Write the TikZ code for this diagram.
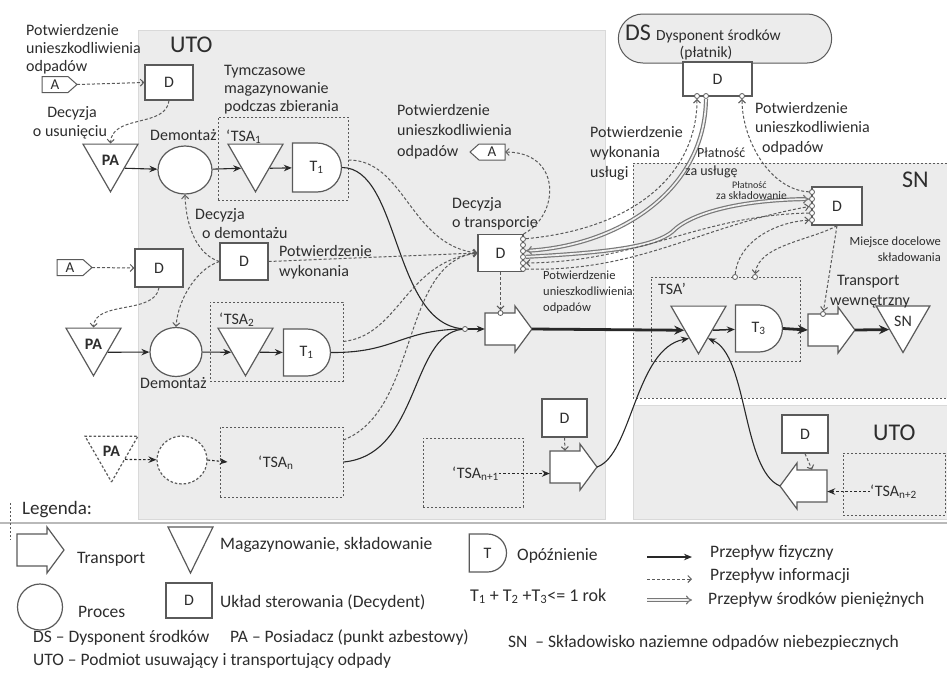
\documentclass[tikz,border=0pt]{standalone}
\usepackage{fontspec}
\setmainfont{Carlito}
\usetikzlibrary{shapes.geometric,shapes.misc,arrows.meta}

\definecolor{panel}{RGB}{236,236,236}
\definecolor{ink}{RGB}{90,90,90}
\definecolor{inkd}{RGB}{40,40,40}
\definecolor{txt}{RGB}{45,45,45}
\definecolor{cash}{RGB}{120,120,120}
\newcommand\fsz[2]{\fontsize{#1}{#2}\selectfont}

\tikzset{
  lbl/.style={inner sep=0pt, text=txt, font=\fsz{16}{18}, anchor=base west},
  lblc/.style={lbl, anchor=base},
  lble/.style={lbl, anchor=base east},
  small/.style={font=\fsz{12.5}{14}},
  big/.style={font=\fsz{24}{28}},
  legtxt/.style={font=\fsz{17.5}{20}},
  shp/.style={draw=ink, fill=white, line width=1.2pt, line join=miter},
  dbox/.style={shp, rectangle, inner sep=0pt, text=txt, font=\fsz{16}{19}},
  store/.style={shp, regular polygon, regular polygon sides=3, shape border rotate=180,
    inner sep=0pt, minimum size=63.5pt, text=txt, font=\bfseries\fsz{16}{19}},
  proc/.style={shp, ellipse, inner sep=0pt},
  delay/.style={shp, rounded rectangle, rounded rectangle left arc=none, inner sep=0pt,
    text=txt, font=\fsz{16}{19}},
  zone/.style={draw=ink, dash pattern=on 2pt off 2pt, line width=1pt, inner sep=0pt},
  dashedshape/.style={dash pattern=on 2.5pt off 2pt},
  port/.style={circle, draw=ink, fill=white, line width=0.8pt, inner sep=0pt, minimum size=5pt},
  info/.style={draw=ink, line width=1pt, dash pattern=on 3pt off 2pt,
    -{Straight Barb[length=3.5pt,width=7pt]}},
  phys/.style={draw=inkd, line width=1.1pt, -{Stealth[length=8pt,width=6.5pt]}},
  physline/.style={draw=inkd, line width=1.1pt},
  physd/.style={phys, dash pattern=on 2.5pt off 2pt},
  heavy/.style={draw=inkd, line width=2.8pt, -{Stealth[length=10pt,width=9pt]}},
  money/.style={draw=cash, line width=1.2pt, double=gray!12, double distance=1.7pt, -{Implies}},
}

% transport symbol pointing right: name, left x, centre y
\newcommand\trR[3]{%
  \draw[shp] (#2,{#3-16}) -- ({#2+30},{#3-16}) -- ({#2+30},{#3-23}) -- ({#2+47},#3)
    -- ({#2+30},{#3+23}) -- ({#2+30},{#3+16}) -- (#2,{#3+16}) -- cycle;
  \node[inner sep=0pt, minimum width=30pt, minimum height=32pt] (#1) at ({#2+15},#3) {};
  \coordinate (#1-tip) at ({#2+47},#3);
}
% transport symbol pointing left: name, right x, centre y
\newcommand\trL[3]{%
  \draw[shp] (#2,{#3-16}) -- ({#2-30},{#3-16}) -- ({#2-30},{#3-23}) -- ({#2-47},#3)
    -- ({#2-30},{#3+23}) -- ({#2-30},{#3+16}) -- (#2,{#3+16}) -- cycle;
  \node[inner sep=0pt, minimum width=30pt, minimum height=32pt] (#1) at ({#2-15},#3) {};
  \coordinate (#1-tip) at ({#2-47},#3);
}
% document tag "A" pointing right: name, left x, centre y
\newcommand\tagR[3]{%
  \draw[shp, line width=1pt] (#2,{#3-8}) -- ({#2+26},{#3-8}) -- ({#2+35},#3)
    -- ({#2+26},{#3+8}) -- (#2,{#3+8}) -- cycle;
  \node[inner sep=0pt, text=txt, font=\fsz{15}{17}] (#1) at ({#2+13},#3) {A};
  \coordinate (#1-tip) at ({#2+35},#3);
  \coordinate (#1-back) at (#2,#3);
}
% document tag "A" pointing left: name, right x, centre y
\newcommand\tagL[3]{%
  \draw[shp, line width=1pt] (#2,{#3-8}) -- ({#2-26},{#3-8}) -- ({#2-35},#3)
    -- ({#2-26},{#3+8}) -- (#2,{#3+8}) -- cycle;
  \node[inner sep=0pt, text=txt, font=\fsz{15}{17}] (#1) at ({#2-13},#3) {A};
  \coordinate (#1-tip) at ({#2-35},#3);
  \coordinate (#1-back) at (#2,#3);
}

\begin{document}
\begin{tikzpicture}[x=1pt,y=-1pt]
\useasboundingbox (0,0) rectangle (947,673);
\fill[white] (0,0) rectangle (947,673);

% ---------- areas ----------
\filldraw[fill=panel, draw=gray!30, line width=0.8pt] (138,30) rectangle (605,519);
\fill[panel] (633,163) rectangle (947,398);
\draw[zone] (947,163) -- (633,163) -- (633,398) -- (947,398);
\filldraw[fill=panel, draw=gray!30, line width=0.8pt] (633,405) rectangle (947,519);
\node[rounded rectangle, draw=ink, fill=panel, line width=1pt,
      minimum width=220pt, minimum height=49pt] (ds) at (725,38.5) {};

% ---------- temporary storage groups ----------
\node[zone, minimum width=130pt, minimum height=83pt] (tsa1) at (283,158.5) {};
\node[zone, minimum width=133pt, minimum height=79pt] (tsa2) at (276.5,341.5) {};
\node[zone, minimum width=123pt, minimum height=70pt] (tsan) at (281.5,462) {};
\node[zone, minimum width=100pt, minimum height=69pt] (tsan1) at (473,472.5) {};
\node[zone, minimum width=102pt, minimum height=62pt] (tsan2) at (894,484) {};
\node[zone, minimum width=149pt, minimum height=84pt] (tsa3) at (725.5,319) {};

% ---------- process elements ----------
\node[store] (pa1) at (110.5,160) {PA};
\node[proc, minimum width=54pt, minimum height=48pt] (c1) at (185,170) {};
\node[store] (tri1) at (255.5,160) {};
\node[delay, minimum width=49pt, minimum height=49pt] (t1a) at (316.5,167.5) {T\textsubscript{1}};

\node[store] (pa2) at (93.5,344) {PA};
\node[proc, minimum width=52pt, minimum height=49pt] (c2) at (176,352) {};
\node[store] (tri2) at (245.5,344) {};
\node[delay, minimum width=47pt, minimum height=47pt] (t1b) at (306.5,352.5) {T\textsubscript{1}};

\node[store, dashedshape, minimum size=61pt] (pan) at (111.5,451.5) {PA};
\node[proc, dashedshape, minimum width=50pt, minimum height=48pt] (cn) at (182,460) {};

\node[store] (tri3) at (698.5,322) {};
\node[delay, minimum width=47pt, minimum height=47pt] (t3) at (758.5,328.5) {T\textsubscript{3}};
\node[store, minimum size=62pt, font=\fsz{16}{19}] (snt) at (903,321.5) {SN};

% ---------- control units ----------
\node[dbox, minimum width=48pt, minimum height=35pt] (d1) at (169,82.5) {D};
\node[dbox, minimum width=48pt, minimum height=38pt] (d2) at (159,268) {D};
\node[dbox, minimum width=48pt, minimum height=37pt] (ddem) at (244,261.5) {D};
\node[dbox, minimum width=45pt, minimum height=37pt] (dtr) at (500.5,253) {D};
\node[dbox, minimum width=45pt, minimum height=38pt] (d3) at (564.5,418) {D};
\node[dbox, minimum width=46pt, minimum height=38pt] (d4) at (805,434) {D};
\node[dbox, minimum width=50pt, minimum height=38pt] (dsn) at (837,206) {D};
\node[dbox, minimum width=69pt, minimum height=34pt] (dds) at (717.5,79) {D};

% ---------- tags and transports ----------
\tagR{a1}{42}{84.5}
\tagR{a2}{57}{267.5}
\tagL{a3}{505}{152}
\trR{tr1}{485}{329}
\trR{tr2}{550}{467}
\trR{tr4}{808}{330}
\trL{tr3}{827}{486}

\node[lbl] (lbn1) at (452,478) {‘TSA\textsubscript{n+1}};
\node[lbl] (lbn2) at (870,496) {‘TSA\textsubscript{n+2}};

% ---------- ports ----------
\foreach \i/\yy in {1/239,2/245,3/251,4/257,5/263,6/269}
  \node[port] (dtrp\i) at (523,\yy) {};
\foreach \i/\yy in {1/192,2/199,3/206,4/213,5/220}
  \node[port] (dsnp\i) at (812,\yy) {};
\node[port] (ddsp1) at (697,96) {};
\node[port] (ddsp2) at (706,96) {};
\node[port] (ddsp3) at (742,96) {};
\node[port] (tsap1) at (735,277) {};
\node[port] (tsap2) at (755,277) {};
\node[port] (tr1p) at (500.5,313) {};
\node[port] (tr4p) at (823,314) {};
\node[port] (j1) at (465,329) {};

% ---------- connectors: row 1 ----------
\draw[info] (a1-tip) -- (d1.west);
\draw[info] (d1.south) .. controls (166,128) and (112,114) .. (pa1.90);
\draw[phys] (pa1.-30) -- (c1);
\draw[phys] (c1) -- (tri1.210);
\draw[phys] (tri1.-30) -- (t1a);
\draw[physline] (t1a.east) .. controls (400,168) and (392,322) .. (j1);
% dismantling decision
\draw[info] (ddem.west) .. controls (198,255) and (186,228) .. (c1.south);
\draw[info] (ddem.west) .. controls (198,268) and (178,298) .. (c2.north);
\draw[info] (ddem.east) -- (dtr.west);
% row 2
\draw[info] (a2-tip) -- (d2.west);
\draw[info] (d2.south) .. controls (155,315) and (95,300) .. (pa2.90);
\draw[phys] (pa2.-30) -- (c2);
\draw[phys] (c2) -- (tri2.210);
\draw[phys] (tri2.-30) -- (t1b);
\draw[physline] (t1b.east) .. controls (395,353) and (400,330) .. (j1);
% row n
\draw[physd] (pan.-30) -- (cn);
\draw[physd] (cn.east) -- ([xshift=8pt]tsan.west);
\draw[physline] (tsan.east) .. controls (420,455) and (410,335) .. (j1);
% reports to the transport decision
\draw[info] ([yshift=-1.5pt]tsa1.east) .. controls (405,160) and (410,245) .. (dtr.west);
\draw[info] (tsa2.east) .. controls (400,335) and (405,262) .. (dtr.west);
\draw[info] ([yshift=22pt]tsan.east) .. controls (420,410) and (400,262) .. (dtr.west);
\draw[info] (dtr.north east) .. controls (560,215) and (562,152) .. (a3-back);
\draw[info] (dtr.south) -- (tr1p);
\draw[phys] (j1) -- (tr1.west);
% main transport line
\draw[heavy] (tr1-tip) -- (tri3.210);
\draw[phys, line width=1.5pt] (tri3.-30) -- (t3);
\draw[heavy] (t3.east) -- (tr4.west);
\draw[heavy] (tr4-tip) -- (snt.210);
% further sources
\draw[physd] (lbn1.east) -- (lbn1.east -| tr2.west);
\draw[info] (d3.south) -- (tr2.north);
\draw[phys] (tr2-tip) .. controls (632,455) and (635,348) .. (tri3.240);
\draw[physd] (lbn2.west) -- (lbn2.west -| tr3.east);
\draw[info] (d4.south) -- (tr3.north);
\draw[phys] (tr3-tip) .. controls (742,470) and (748,355) .. (tri3.-60);
% landfill control
\draw[info] (dsn.south) -- (tr4p);
\draw[info] (dsn.south) .. controls (812,240) and (758,245) .. (tsap2);
\draw[info] (tsap1) .. controls (738,242) and (775,222) .. (dsnp5);
% payer and payments
\draw[info] (dtrp1) .. controls (640,228) and (697,170) .. (ddsp1);
\draw[money] (ddsp2) .. controls (705,190) and (620,245) .. (dtrp3);
\draw[money] (dtrp4) .. controls (620,252) and (655,245) .. (672,232)
  .. controls (690,213) and (740,200) .. (dsnp2);
\draw[info] (dsnp1) .. controls (770,190) and (742,140) .. (ddsp3);
\draw[info] (dsnp4) .. controls (700,215) and (640,262) .. (dtrp5);
\draw[info] (dtrp6) .. controls (640,272) and (700,226) .. (dsnp3);

% ---------- labels ----------
\node[lbl, big] (uto1) at (170,52) {UTO};
\node[lbl] (l1a) at (26,35) {Potwierdzenie};
\node[lbl] (l1b) at (26,53) {unieszkodliwienia};
\node[lbl] (l1c) at (26,71) {odpadów};
\node[lblc] (l2a) at (72,117) {Decyzja};
\node[lblc] (l2b) at (70,136) {o usunięciu};
\node[lbl] (l3a) at (224,75) {Tymczasowe};
\node[lbl] (l3b) at (224,93) {magazynowanie};
\node[lbl] (l3c) at (224,111) {podczas zbierania};
\node[lbl] (l4) at (150,140) {Demontaż};
\node[lbl] (l5) at (226,141) {‘TSA\textsubscript{1}};
\node[lbl] (l6a) at (397,115) {Potwierdzenie};
\node[lbl] (l6b) at (397,135) {unieszkodliwienia};
\node[lbl] (l6c) at (397,156) {odpadów};
\node[lbl] (l7a) at (452,208) {Decyzja};
\node[lbl] (l7b) at (452,227) {o transporcie};
\node[lbl] (l8a) at (195,219) {Decyzja};
\node[lbl] (l8b) at (202,238) {o demontażu};
\node[lbl] (l9a) at (279,256) {Potwierdzenie};
\node[lbl] (l9b) at (279,276) {wykonania};
\node[lbl] (l10) at (140,388) {Demontaż};
\node[lbl] (l11) at (219,324) {‘TSA\textsubscript{2}};
\node[lbl] (l12) at (258,467) {‘TSA\textsubscript{n}};
\node[lbl, small] (l13a) at (543,279) {Potwierdzenie};
\node[lbl, small] (l13b) at (543,295) {unieszkodliwienia};
\node[lbl, small] (l13c) at (543,311) {odpadów};

\node[lbl, big] (uto2) at (873,440) {UTO};
\node[lbl, big] (snlbl) at (902,187) {SN};
\node[lbl, big] (dslbl) at (625,40) {DS};
\node[lbl, font=\fsz{15.5}{18}] (l14) at (656,40) {Dysponent środków};
\node[lblc, font=\fsz{15.5}{18}] (l15) at (706,57) {(płatnik)};
\node[lbl] (l16a) at (590,137) {Potwierdzenie};
\node[lbl] (l16b) at (590,157) {wykonania};
\node[lbl] (l16c) at (590,177) {usługi};
\node[lbl, font=\fsz{14}{16}] (l17a) at (697,157) {Płatność};
\node[lbl, font=\fsz{14}{16}] (l17b) at (685,175) {za usługę};
\node[lbl, font=\fsz{10}{12}] (l18a) at (732,188) {Płatność};
\node[lbl, font=\fsz{11.5}{13}] (l18b) at (716,199) {za składowanie};
\node[lbl] (l19a) at (755,113) {Potwierdzenie};
\node[lbl] (l19b) at (755,132) {unieszkodliwienia};
\node[lbl] (l19c) at (762,152) {odpadów};
\node[lble, small] (l20a) at (941,245) {Miejsce docelowe};
\node[lble, small] (l20b) at (941,261) {składowania};
\node[lbl] (l21) at (658,294) {TSA’};
\node[lbl] (l22a) at (837,285) {Transport};
\node[lbl] (l22b) at (830,305) {wewnętrzny};

% ---------- legend ----------
\draw[gray!55, line width=1.6pt] (0,523) -- (947,523);
\draw[zone] (10,503) -- (10,540);
\node[lbl, font=\fsz{19}{22}] (lg0) at (22,514) {Legenda:};
\trR{lgtr}{17}{550}
\node[lbl, legtxt] (lg1) at (77,563) {Transport};
\path[shp] (168,527) -- (213,527) -- (190.5,573) -- cycle;
\node[lbl, legtxt] (lg2) at (220,549) {Magazynowanie, składowanie};
\node[proc, minimum width=45pt, minimum height=46pt] (lgc) at (40,607) {};
\node[lbl, legtxt] (lg3) at (78,617) {Proces};
\node[dbox, minimum width=46pt, minimum height=35pt] (lgd) at (189,600.5) {D};
\node[lbl, legtxt] (lg4) at (220,607) {Układ sterowania (Decydent)};
\node[delay, minimum width=35pt, minimum height=38pt] (lgt) at (487.5,553) {T};
\node[lbl, legtxt] (lg5) at (517,560) {Opóźnienie};
\node[lbl, font=\fsz{18}{20}] (lg6) at (470,601)
  {T\textsubscript{1} + T\textsubscript{2} +T\textsubscript{3}<= 1 rok};
\coordinate (lga1) at (647,557); \coordinate (lga2) at (692,557);
\coordinate (lgb1) at (647,579); \coordinate (lgb2) at (692,579);
\coordinate (lgm1) at (647,600); \coordinate (lgm2) at (692,600);
\draw[phys] (lga1) -- (lga2);
\draw[info] (lgb1) -- (lgb2);
\draw[money] (lgm1) -- (lgm2);
\node[lbl, legtxt] (lg7) at (710,557) {Przepływ fizyczny};
\node[lbl, legtxt] (lg8) at (710,580) {Przepływ informacji};
\node[lbl, legtxt] (lg9) at (708,604) {Przepływ środków pieniężnych};

\node[lbl, legtxt] (def1) at (33,642) {DS – Dysponent środków};
\node[lbl, legtxt] (def2) at (230,642) {PA – Posiadacz (punkt azbestowy)};
\node[lbl, legtxt] (def3) at (508,647) {SN \ – Składowisko naziemne odpadów niebezpiecznych};
\node[lbl, legtxt] (def4) at (33,665) {UTO – Podmiot usuwający i transportujący odpady};
\end{tikzpicture}
\end{document}
